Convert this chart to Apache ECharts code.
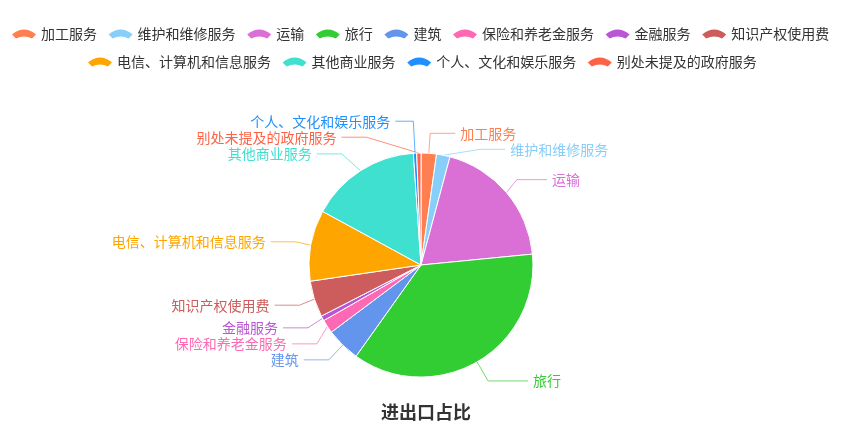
<!DOCTYPE html>
<html>
<head>
<meta charset="utf-8">
<script src="https://cdn.jsdelivr.net/npm/echarts@6/dist/echarts.min.js"></script>
<style>
  html, body { margin: 0; padding: 0; background: #fff; }
  #chart-container { width: 863px; height: 441px; }
</style>
</head>
<body>
<div id="chart-container"></div>
<script>
var categories = [
  '加工服务', '维护和维修服务', '运输', '旅行', '建筑', '保险和养老金服务',
  '金融服务', '知识产权使用费', '电信、计算机和信息服务', '其他商业服务',
  '个人、文化和娱乐服务', '别处未提及的政府服务'
];
var values = [80, 70, 694, 1310, 177, 71, 26, 188, 369, 575, 17, 22];
var colors = [
  '#ff7f50', '#87cefa', '#da70d6', '#32cd32', '#6495ed', '#ff69b4',
  '#ba55d3', '#cd5c5c', '#ffa500', '#40e0d0', '#1e90ff', '#ff6347'
];
var legendRow1 = categories.slice(0, 8);
var legendRow2 = categories.slice(8);

// a few guide lines are longer in the original layout
var lineTweaks = {
  '运输': { length: 20, length2: 30 },
  '旅行': { length: 22, length2: 40 },
  '个人、文化和娱乐服务': { length: 32, length2: 18 },
  '别处未提及的政府服务': { length: 16, length2: 25 }
};

var dom = document.getElementById('chart-container');
var myChart = echarts.init(dom, null, { renderer: 'canvas' });
var FONT = '"Microsoft YaHei", "Noto Sans CJK SC", sans-serif';
// fan shaped legend icon
var fanIcon = 'path://M0,5 Q12,-5 24,5 L20,9 Q12,5 4,9 Z';

var legendBase = {
  orient: 'horizontal',
  icon: fanIcon,
  padding: 0,
  itemWidth: 24,
  itemHeight: 10,
  itemGap: 11.6,
  itemStyle: { borderWidth: 0 },
  textStyle: { fontSize: 14, color: '#333', fontFamily: FONT }
};

var option = {
  color: colors,
  animation: false,
  title: {
    text: '进出口占比',
    left: 421,
    textAlign: 'center',
    top: 398,
    textStyle: { fontSize: 18, fontWeight: 'bold', color: '#333', fontFamily: FONT }
  },
  legend: [
    Object.assign({}, legendBase, { data: legendRow1, left: 12, top: 27 }),
    Object.assign({}, legendBase, { data: legendRow2, left: 88, top: 55 })
  ],
  series: [
    {
      name: '进出口占比',
      type: 'pie',
      center: [421, 265],
      radius: 112,
      startAngle: 90,
      clockwise: true,
      itemStyle: { borderColor: '#fff', borderWidth: 1 },
      label: {
        show: true,
        position: 'outside',
        fontSize: 14,
        fontFamily: FONT
      },
      labelLine: { length: 20, length2: 25, lineStyle: { width: 1, opacity: 0.7 } },
      data: categories.map(function (name, i) {
        var item = { name: name, value: values[i], label: { color: colors[i] } };
        if (lineTweaks[name]) item.labelLine = lineTweaks[name];
        return item;
      })
    }
  ]
};

myChart.setOption(option);
window.addEventListener('resize', myChart.resize);
</script>
</body>
</html>
